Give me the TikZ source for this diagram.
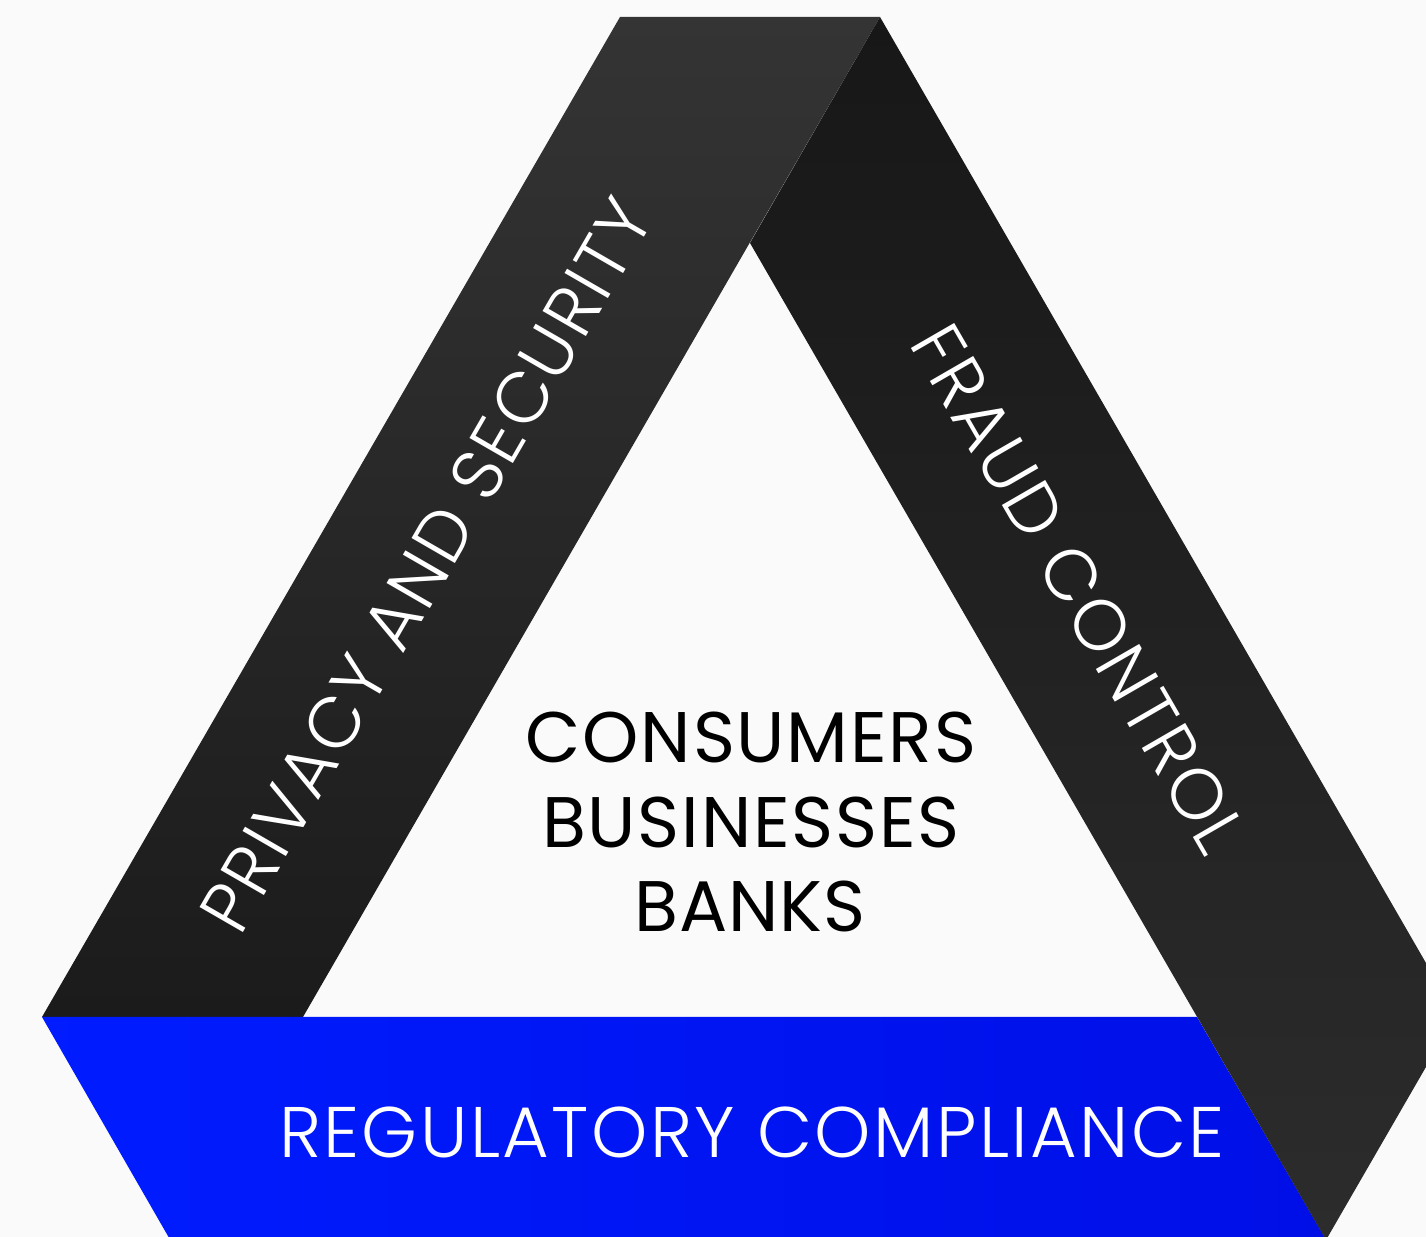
\documentclass[tikz,border=0pt]{standalone}
\usepackage{fontspec}
\setmainfont{Poppins}
\newfontfamily\lightfont{Poppins Light}
\definecolor{bg}{HTML}{FAFAFA}
\definecolor{ltop}{HTML}{343434}
\definecolor{lbot}{HTML}{1B1B1B}
\definecolor{rtop}{HTML}{171717}
\definecolor{rbot}{HTML}{2C2C2C}
\definecolor{blueL}{HTML}{001CFF}
\definecolor{blueR}{HTML}{000FE6}
\tikzset{
  centertext/.style={font=\fontsize{35.8}{40}\selectfont\addfontfeature{LetterSpace=2.5}, text=black, inner sep=0pt},
  bandtext/.style={font=\lightfont\fontsize{35.8}{40}\selectfont\addfontfeature{LetterSpace=3.4}, text=white, inner sep=0pt},
}
\begin{document}
\begin{tikzpicture}[x=0.5pt,y=0.5pt]
\useasboundingbox (0,0) rectangle (1426,1237);
\fill[bg] (0,0) rectangle (1426,1237);
\clip (0,0) rectangle (1426,1237);
% left band
\shade[top color=ltop, bottom color=lbot] (620,1220) -- (880,1220) -- (303,220) -- (42,220) -- cycle;
% bottom band
\shade[left color=blueL, right color=blueR] (42,220) -- (1197,220) -- (1328,-6) -- (172,-6) -- cycle;
% right band
\shade[top color=rtop, bottom color=rbot] (880,1220) -- (1456,222) -- (1326,-3) -- (750,994) -- cycle;
% texts
\node[centertext, anchor=base] (cons) at (751,474) {CONSUMERS};
\node[centertext, anchor=base] (bus) at (751,389) {BUSINESSES};
\node[centertext, anchor=base, font=\fontsize{35.8}{40}\selectfont\addfontfeature{LetterSpace=1.2}] (banks) at (750,305) {BANKS};
\node[bandtext, anchor=base] (reg) at (752,79) {REGULATORY COMPLIANCE};
\node[bandtext, rotate=-60] (fraud) at (1079,648) {FRAUD CONTROL};
\node[bandtext, rotate=60] (priv) at (426,672) {PRIVACY AND SECURITY};
\end{tikzpicture}
\end{document}
